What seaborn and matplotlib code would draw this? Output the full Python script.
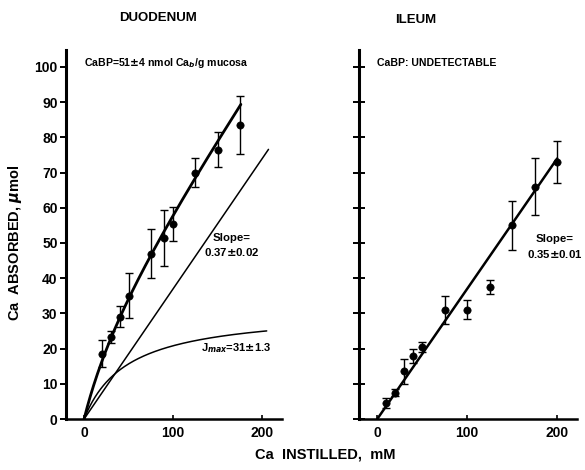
import numpy as np
import pandas as pd
import seaborn as sns
import matplotlib.pyplot as plt

# ---- data ----
duo_conc = [20, 30, 40, 50, 75, 90, 100, 125, 150, 175]
duo_abs = [18.5, 23.3, 29, 35, 47, 51.5, 55.5, 70, 76.5, 83.5]
duo_err = [3.8, 1.6, 3, 6.4, 7, 8, 4.8, 4, 5, 8.3]

ile_conc = [10, 20, 30, 40, 50, 75, 100, 125, 150, 175, 200]
ile_abs = [4.5, 7.5, 13.5, 18, 20.5, 31, 31, 37.5, 55, 66, 73]
ile_err = [1.5, 1, 3.5, 2, 1.5, 4, 2.7, 2, 7, 8, 6]

# fitted model parameters (duodenum: saturable + linear)
JMAX = 31
KM = 49
SLOPE_DUO = 0.37
ile_fit_x = [0, 200]
ile_fit_y = [0, 74]

yticks = list(range(0, 101, 10))
xticks = [0, 100, 200]

sns.set_style("ticks")
plt.rcParams["font.family"] = ["Liberation Sans", "DejaVu Sans"]
plt.rcParams["font.weight"] = "bold"
plt.rcParams["text.color"] = "black"
plt.rcParams["xtick.color"] = "black"
plt.rcParams["ytick.color"] = "black"
plt.rcParams["axes.edgecolor"] = "black"

fig = plt.figure(figsize=(5.85, 4.7), dpi=100)
ax1 = fig.add_axes([0.1128, 0.1085, 0.369, 0.785])
ax2 = fig.add_axes([0.6137, 0.1085, 0.3726, 0.785])

# duodenum curves
x_sat = np.linspace(0, 205, 200)
x_tot = np.linspace(0, 176, 200)
sat = pd.DataFrame({"x": x_sat, "y": JMAX * x_sat / (KM + x_sat)})
lin = pd.DataFrame({"x": [0, 207], "y": [0, SLOPE_DUO * 207]})
tot = pd.DataFrame({"x": x_tot, "y": JMAX * x_tot / (KM + x_tot) + SLOPE_DUO * x_tot})
sns.lineplot(data=sat, x="x", y="y", ax=ax1, color="black", lw=1.1, sort=False)
sns.lineplot(data=lin, x="x", y="y", ax=ax1, color="black", lw=1.1, sort=False)
sns.lineplot(data=tot, x="x", y="y", ax=ax1, color="black", lw=2.0, sort=False)

ax1.errorbar(duo_conc, duo_abs, yerr=duo_err, fmt="none", ecolor="black",
             elinewidth=1.0, capsize=3, capthick=1.0)
sns.scatterplot(x=duo_conc, y=duo_abs, ax=ax1, color="black", s=28,
                edgecolor="black", zorder=5)

# ileum
fit = pd.DataFrame({"x": ile_fit_x, "y": ile_fit_y})
sns.lineplot(data=fit, x="x", y="y", ax=ax2, color="black", lw=1.8)
ax2.errorbar(ile_conc, ile_abs, yerr=ile_err, fmt="none", ecolor="black",
             elinewidth=1.0, capsize=3, capthick=1.0)
sns.scatterplot(x=ile_conc, y=ile_abs, ax=ax2, color="black", s=28,
                edgecolor="black", zorder=5)

for ax in (ax1, ax2):
    ax.set_xlim(-20.3, 222)
    ax.set_ylim(0, 104.8)
    ax.set_xticks(xticks)
    ax.set_yticks(yticks)
    ax.set_xlabel("")
    ax.set_ylabel("")
    sns.despine(ax=ax)
    ax.spines["left"].set_linewidth(2.2)
    ax.spines["bottom"].set_linewidth(1.8)
    ax.tick_params(axis="x", direction="in", length=3, width=1.2,
                   labelsize=10, pad=5)
    for lab in ax.get_xticklabels():
        lab.set_fontweight("bold")

ax1.tick_params(axis="y", direction="out", length=4, width=1.4,
                labelsize=10, pad=2)
for lab in ax1.get_yticklabels():
    lab.set_fontweight("bold")
ax2.tick_params(axis="y", direction="inout", length=9, width=1.4,
                labelleft=False)

fig.text(0.27, 0.962, "DUODENUM", fontsize=9.5, fontweight="bold",
         ha="center", va="center")
fig.text(0.711, 0.958, "ILEUM", fontsize=9.5, fontweight="bold",
         ha="center", va="center")

ax1.text(0, 101, r"CaBP=51$\pm$4 nmol Ca$_b$/g mucosa", fontsize=7.6,
         fontweight="bold", va="center", ha="left")
ax1.text(166, 51.4, "Slope=", fontsize=8.2, fontweight="bold",
         ha="center", va="center")
ax1.text(166, 47.4, r"0.37$\pm$0.02", fontsize=8.2, fontweight="bold",
         ha="center", va="center")
ax1.text(131, 20.2, r"J$_{max}$=31$\pm$1.3", fontsize=8,
         fontweight="bold", ha="left", va="center")

ax2.text(0, 101, "CaBP: UNDETECTABLE", fontsize=7.6, fontweight="bold",
         va="center", ha="left")
ax2.text(197, 51.2, "Slope=", fontsize=8.2, fontweight="bold",
         ha="center", va="center", clip_on=False)
ax2.text(197, 47.0, r"0.35$\pm$0.01", fontsize=8.2, fontweight="bold",
         ha="center", va="center", clip_on=False)

fig.text(0.026, 0.483, r"Ca  ABSORBED, $\mu$mol", rotation=90,
         fontsize=10.5, fontweight="bold", ha="center", va="center")
fig.text(0.556, 0.032, "Ca  INSTILLED,  mM", fontsize=10.5,
         fontweight="bold", ha="center", va="center")

fig.savefig("out.png", dpi=100)
plt.close(fig)
